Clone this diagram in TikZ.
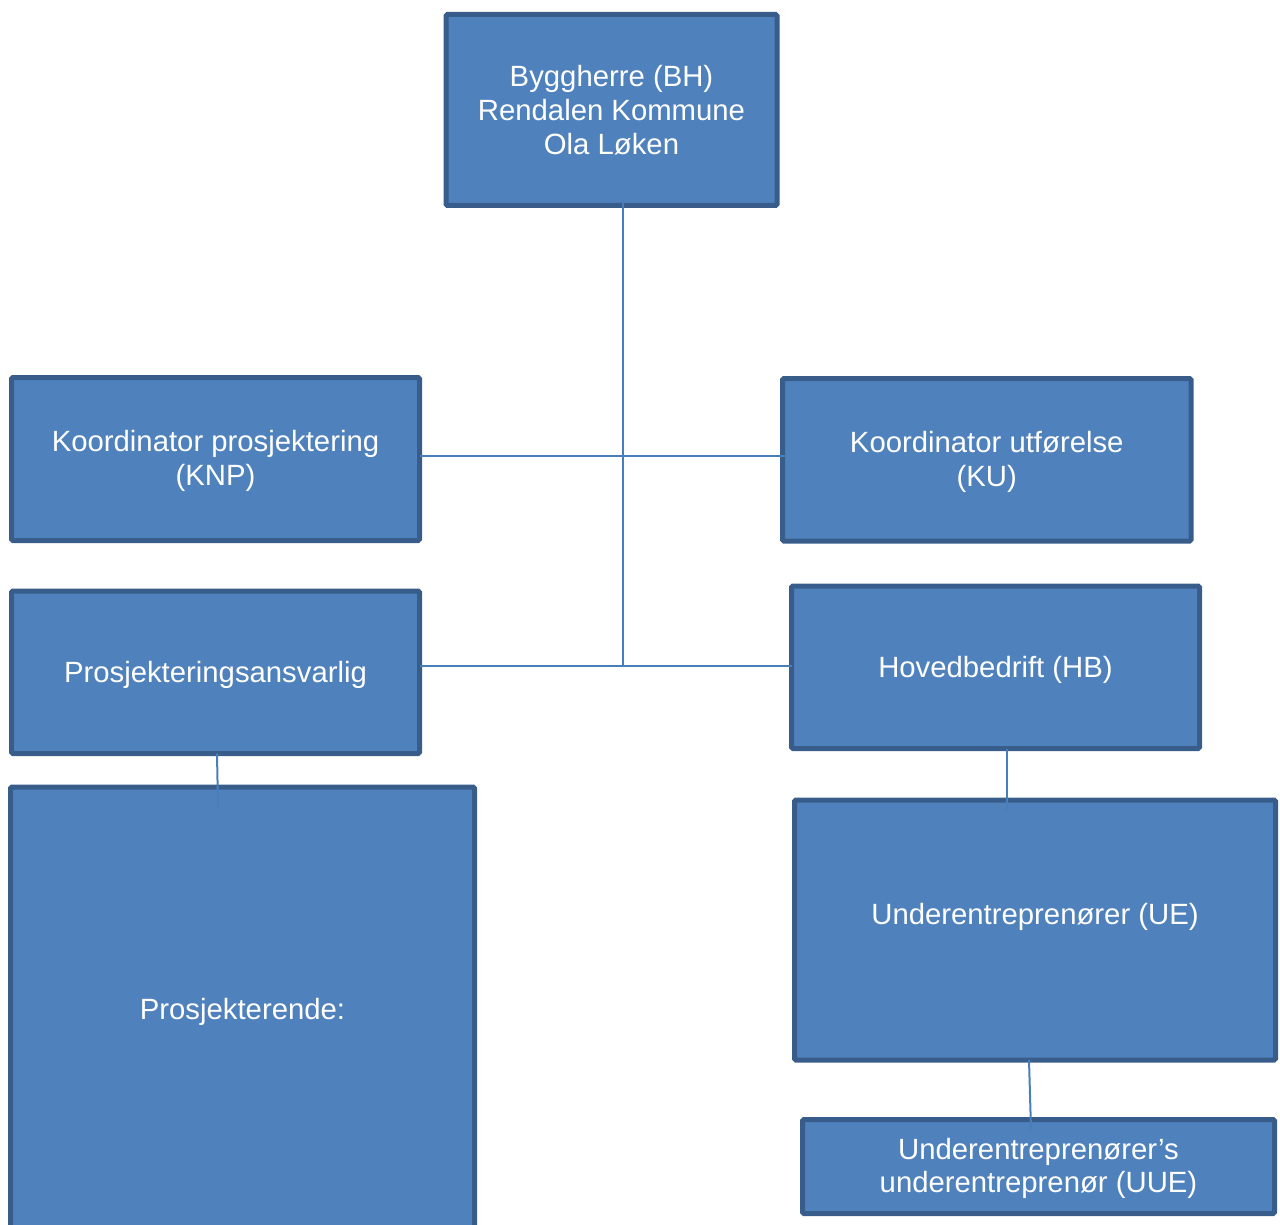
\documentclass[tikz,border=0pt]{standalone}
\usepackage{fontspec}
\setmainfont{Liberation Sans}
\usetikzlibrary{calc}
\definecolor{boxfill}{HTML}{4F81BD}
\definecolor{boxline}{HTML}{385D8A}
\definecolor{conn}{HTML}{4A7EBB}
\begin{document}
\begin{tikzpicture}[x=1pt,y=1pt,
  orgbox/.style={draw=boxline, fill=boxfill, line width=5pt, rounded corners=1.5pt,
    outer sep=0pt, inner sep=0pt},
  lbl/.style={align=center, text=white, inner sep=0pt, font=\fontsize{29.3}{33.8}\selectfont},
  link/.style={draw=conn, line width=2pt}]
\useasboundingbox (0,0) rectangle (1280,-1225);
\coordinate (j1) at (623,-455.5);
\coordinate (j2) at (623,-666);
\node[orgbox, minimum width=331, minimum height=191] (bh) at (611.5,-110) {};
\node[orgbox, minimum width=408, minimum height=163] (knp) at (215.5,-459) {};
\node[orgbox, minimum width=408.5, minimum height=162.5] (ku) at (986.75,-459.75) {};
\node[orgbox, minimum width=408, minimum height=162.5] (pa) at (215.5,-672.25) {};
\node[orgbox, minimum width=408, minimum height=162.5] (hb) at (995.5,-667.25) {};
\node[orgbox, minimum width=464, minimum height=444] (pr) at (242.5,-1009) {};
\node[orgbox, minimum width=481, minimum height=260] (ue) at (1035,-930) {};
\node[orgbox, minimum width=472, minimum height=94] (uue) at (1038.5,-1166.5) {};
% texts
\node[lbl] (bhtext) at ($(bh.center)+(0,0)$) {Byggherre (BH)\\Rendalen Kommune\\Ola Løken};
\node[lbl] (knptext) at ($(knp.center)+(0,-2)$) {Koordinator prosjektering\\(KNP)};
\node[lbl] (kutext) at ($(ku.center)+(0,-2)$) {Koordinator utførelse\\(KU)};
\node[lbl] (patext) at ($(pa.center)+(0,-3)$) {Prosjekteringsansvarlig};
\node[lbl] (hbtext) at ($(hb.center)+(0,-3)$) {Hovedbedrift (HB)};
\node[lbl] (prtext) at ($(pr.center)+(0,-3)$) {Prosjekterende:};
\node[lbl] (uetext) at ($(ue.center)+(0,13)$) {Underentreprenører (UE)};
\node[lbl] (uuetext) at ($(uue.center)+(0,-2)$) {Underentreprenører’s\\underentreprenør (UUE)};
% connectors
\draw[link] ($(bh.south -| j1)+(0,5)$) -- (j2);
\draw[link] (knp.east |- j1) -- ($(ku.west |- j1)+(2,0)$);
\draw[link] (pa.east |- j2) -- (hb.west |- j2);
\draw[link] ($(pa.south)+(1.5,0)$) -- ($(pr.north)+(-24.5,-20)$);
\draw[link] ($(hb.south)+(11.5,0)$) -- ($(ue.north)+(-28,-10)$);
\draw[link] ($(ue.south)+(-6,0)$) -- ($(uue.north)+(-7.5,-10)$);
\end{tikzpicture}
\end{document}
